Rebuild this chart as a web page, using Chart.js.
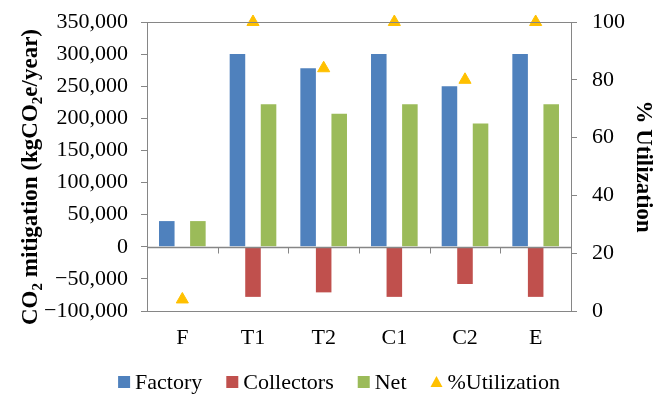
<!DOCTYPE html>
<html>
<head>
<meta charset="utf-8">
<script src="https://cdn.jsdelivr.net/npm/chart.js@4/dist/chart.umd.min.js"></script>
<style>
  html, body { margin: 0; padding: 0; background: #fff; }
  #wrap { width: 654px; height: 394px; }
</style>
</head>
<body>
<div id="wrap"><canvas id="c" width="654" height="394"></canvas></div>
<script>
// Annual CO2 mitigation per scenario (kgCO2e/year) and collector utilisation (%)
const categories  = ['F', 'T1', 'T2', 'C1', 'C2', 'E'];
const factory     = [40000, 300000, 278000, 300000, 250000, 300000];
const collectors  = [0, -78000, -71000, -78000, -58000, -78000];
const net         = [40000, 222000, 207000, 222000, 192000, 222000];
const utilization = [4, 100, 84, 100, 80, 100];

const leftAxis  = { min: -100000, max: 350000, step: 50000 };
const rightAxis = { min: 0, max: 100, step: 20 };

const FONT = '"Liberation Serif", "Times New Roman", serif';
const TICK_SIZE = 22;
const AXIS = '#868686';
const fmt = v => (v < 0 ? '\u2212' : '') + Math.abs(v).toLocaleString('en-US');

// Draws a run of text with optional subscript pieces, centred on (cx, cy) and rotated.
function drawRich(ctx, parts, cx, cy, angle, size) {
  const base = `bold ${size}px ${FONT}`;
  const small = `bold ${Math.round(size * 0.65)}px ${FONT}`;
  let total = 0;
  parts.forEach(p => { ctx.font = p.sub ? small : base; p.w = ctx.measureText(p.t).width; total += p.w; });
  ctx.save();
  ctx.translate(cx, cy);
  ctx.rotate(angle);
  ctx.fillStyle = '#000';
  ctx.textBaseline = 'alphabetic';
  ctx.textAlign = 'left';
  let x = -total / 2;
  const baseY = size * 0.33;
  parts.forEach(p => {
    ctx.font = p.sub ? small : base;
    ctx.fillText(p.t, x, baseY + (p.sub ? size * 0.22 : 0));
    x += p.w;
  });
  ctx.restore();
}

// Legend row under the category labels: square swatches for bars, a triangle for the point series.
function drawLegend(chart) {
  const { ctx } = chart;
  const sw = 12, gapText = 5, gapItem = 24, cy = 382;
  ctx.save();
  ctx.font = `${TICK_SIZE}px ${FONT}`;
  const items = chart.data.datasets.map(ds => ({
    label: ds.label, color: ds.backgroundColor, tri: ds.pointStyle === 'triangle',
    w: sw + gapText + ctx.measureText(ds.label).width
  }));
  const total = items.reduce((s, it) => s + it.w, 0) + gapItem * (items.length - 1);
  let x = 339 - total / 2;
  ctx.textBaseline = 'middle';
  ctx.textAlign = 'left';
  items.forEach(it => {
    ctx.fillStyle = it.color;
    if (it.tri) {
      ctx.beginPath();
      ctx.moveTo(x + sw / 2, cy - 6);
      ctx.lineTo(x + sw, cy + 5);
      ctx.lineTo(x, cy + 5);
      ctx.closePath();
      ctx.fill();
    } else {
      ctx.fillRect(x, cy - sw / 2, sw, sw);
    }
    ctx.fillStyle = '#000';
    ctx.fillText(it.label, x + sw + gapText, cy + 1);
    x += it.w + gapItem;
  });
  ctx.restore();
}

const framePlugin = {
  id: 'frame',
  afterDatasetsDraw(chart) {
    const { ctx, chartArea: a, scales: { x, y } } = chart;
    ctx.save();
    ctx.strokeStyle = AXIS;
    ctx.lineWidth = 1;
    // top edge of the plot box
    ctx.beginPath();
    ctx.moveTo(a.left, Math.round(a.top) + 0.5);
    ctx.lineTo(a.right, Math.round(a.top) + 0.5);
    ctx.stroke();
    // category axis running along zero, with tick marks between categories
    const y0 = Math.round(y.getPixelForValue(0)) + 0.5;
    ctx.lineWidth = 1.5;
    ctx.beginPath();
    ctx.moveTo(a.left, y0);
    ctx.lineTo(a.right, y0);
    ctx.stroke();
    ctx.lineWidth = 1;
    ctx.beginPath();
    for (let i = 0; i < categories.length - 1; i++) {
      const xb = Math.round((x.getPixelForValue(i) + x.getPixelForValue(i + 1)) / 2) + 0.5;
      ctx.moveTo(xb, y0);
      ctx.lineTo(xb, y0 + 6);
    }
    ctx.stroke();
    ctx.restore();
  },
  afterDraw(chart) {
    const { ctx, chartArea: a } = chart;
    drawRich(ctx, [
      { t: 'CO' }, { t: '2', sub: true }, { t: ' mitigation (kgCO' },
      { t: '2', sub: true }, { t: 'e/year)' }
    ], 29, 177, -Math.PI / 2, 23);
    drawRich(ctx, [{ t: '% Utilization' }], 645, (a.top + a.bottom) / 2, Math.PI / 2, 23);
    drawLegend(chart);
  }
};

// Value axes keep fixed widths and do not push the plot area inwards for their end labels.
const fixWidth = w => s => { s.width = w; s.paddingTop = 0; s.paddingBottom = 0; };

new Chart(document.getElementById('c'), {
  data: {
    labels: categories,
    datasets: [
      { type: 'bar', label: 'Factory', data: factory, backgroundColor: '#4F81BD', pointStyle: 'rect', yAxisID: 'y' },
      { type: 'bar', label: 'Collectors', data: collectors, backgroundColor: '#C0504D', pointStyle: 'rect', yAxisID: 'y' },
      { type: 'bar', label: 'Net', data: net, backgroundColor: '#9BBB59', pointStyle: 'rect', yAxisID: 'y' },
      { type: 'line', label: '%Utilization', data: utilization, yAxisID: 'y2', showLine: false, clip: false,
        pointStyle: 'triangle', pointRadius: 7, pointHoverRadius: 7,
        backgroundColor: '#FFC000', borderColor: '#FFC000', borderWidth: 1 }
    ]
  },
  options: {
    responsive: false,
    animation: false,
    devicePixelRatio: 1,
    datasets: { bar: { categoryPercentage: 0.66, barPercentage: 1.0 } },
    layout: { padding: { top: 22, left: 0, right: 0, bottom: 36 } },
    plugins: {
      tooltip: { enabled: false },
      legend: { display: false }
    },
    scales: {
      x: {
        offset: true,
        grid: { display: false, drawTicks: false },
        border: { display: true, color: AXIS },
        ticks: { font: { family: FONT, size: TICK_SIZE }, color: '#000', padding: 14 },
        afterFit: s => { s.height = 47; }
      },
      y: {
        position: 'left',
        min: leftAxis.min, max: leftAxis.max,
        grid: { drawOnChartArea: false, drawTicks: true, tickLength: 6, tickColor: AXIS },
        border: { display: true, color: AXIS },
        ticks: { stepSize: leftAxis.step, font: { family: FONT, size: TICK_SIZE }, color: '#000', padding: 13, callback: v => fmt(v) },
        afterFit: fixWidth(147)
      },
      y2: {
        position: 'right',
        min: rightAxis.min, max: rightAxis.max,
        grid: { drawOnChartArea: false, drawTicks: true, tickLength: 6, tickColor: AXIS },
        border: { display: true, color: AXIS },
        ticks: { stepSize: rightAxis.step, font: { family: FONT, size: TICK_SIZE }, color: '#000', padding: 15 },
        afterFit: fixWidth(83)
      }
    }
  },
  plugins: [framePlugin]
});
</script>
</body>
</html>
